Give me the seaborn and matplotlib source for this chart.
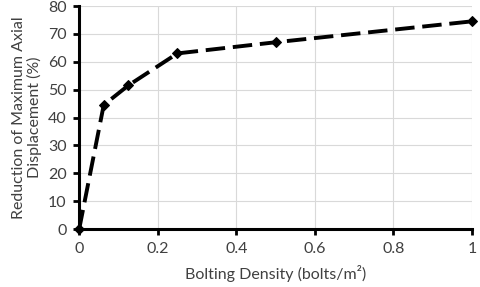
import matplotlib
matplotlib.use("Agg")
import matplotlib.pyplot as plt
import pandas as pd
import seaborn as sns

density = [0, 0.0625, 0.125, 0.25, 0.5, 1.0]
reduction = [0, 44.5, 51.5, 63, 67, 74.5]
x_ticks = [0, 0.2, 0.4, 0.6, 0.8, 1]
x_tick_labels = ["0", "0.2", "0.4", "0.6", "0.8", "1"]
y_ticks = [0, 10, 20, 30, 40, 50, 60, 70, 80]

df = pd.DataFrame({"density": density, "reduction": reduction})

sns.set_theme(style="whitegrid")
plt.rcParams["font.family"] = ["Lato", "DejaVu Sans"]

fig = plt.figure(figsize=(4.8, 2.87), dpi=100)
ax = fig.add_axes([0.165, 0.202, 0.818, 0.777])

sns.lineplot(data=df, x="density", y="reduction", ax=ax, color="black",
             linewidth=2.8, marker="D", markersize=5.5, markeredgecolor="black",
             dashes=False, linestyle=(0, (5, 2)), clip_on=False, zorder=3)

ax.set_xlim(0, 1)
ax.set_ylim(0, 80)
ax.set_xticks(x_ticks)
ax.set_xticklabels(x_tick_labels)
ax.set_yticks(y_ticks)
ax.grid(True, color="#d9d9d9", linewidth=0.8)
ax.set_facecolor("white")

for side in ["top", "right"]:
    ax.spines[side].set_visible(False)
for side in ["left", "bottom"]:
    ax.spines[side].set_color("black")
    ax.spines[side].set_linewidth(2.2)

ax.tick_params(axis="both", direction="out", length=4, width=2, color="black",
               labelsize=11.5, labelcolor="#404040", pad=5,
               bottom=True, left=True)

ax.set_xlabel("Bolting Density (bolts/m²)", fontsize=11.5, color="#404040", labelpad=7)
ax.set_ylabel("Reduction of Maximum Axial\nDisplacement (%)", fontsize=11.5,
              color="#404040", labelpad=4, linespacing=1.1)

fig.savefig("out.png", dpi=100)
